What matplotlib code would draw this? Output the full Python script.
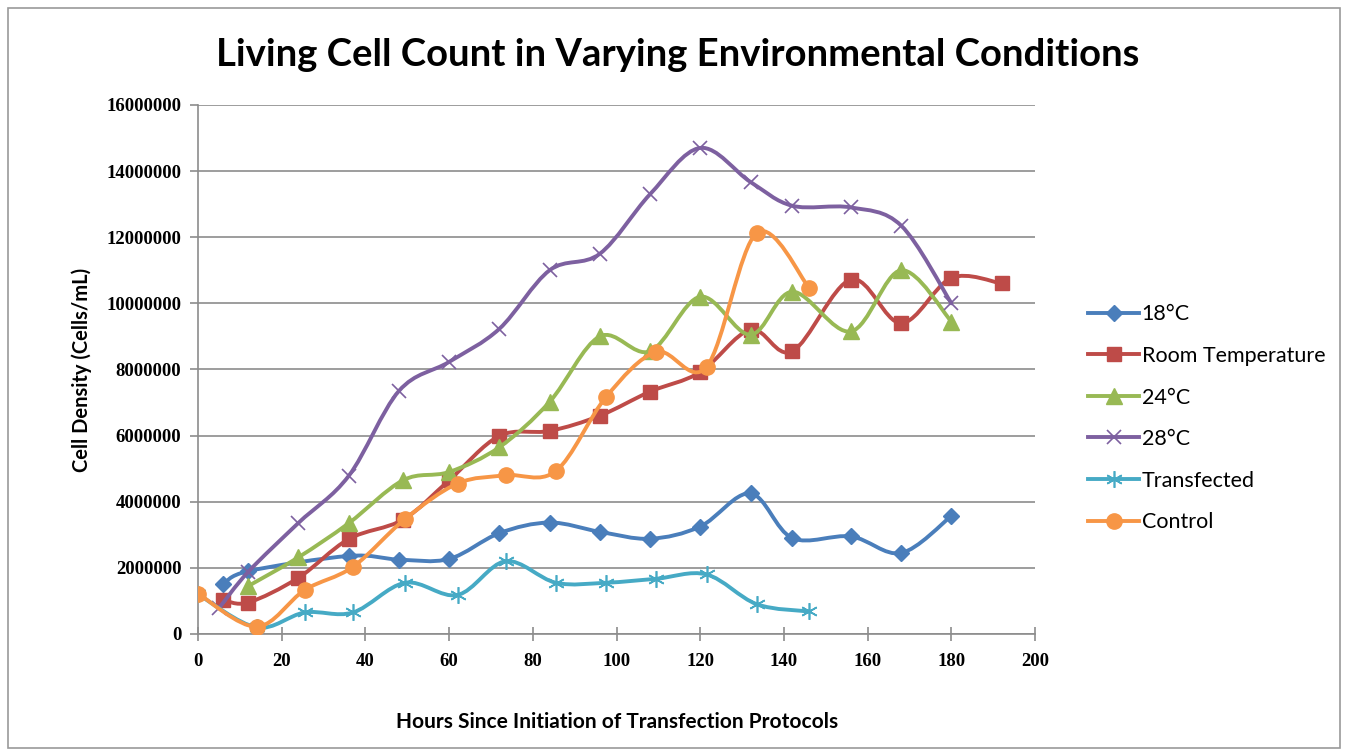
import numpy as np
import matplotlib
matplotlib.use("Agg")
import matplotlib.pyplot as plt
from matplotlib.path import Path
from matplotlib.patches import PathPatch, Rectangle
from matplotlib.lines import Line2D

# data (hours, cells/mL)
hours_18 = [6, 12, 36, 48, 60, 72, 84, 96, 108, 120, 132, 142, 156, 168, 180]
dens_18 = [1.50e6, 1.90e6, 2.36e6, 2.25e6, 2.27e6, 3.05e6, 3.37e6, 3.09e6, 2.88e6,
           3.25e6, 4.25e6, 2.90e6, 2.95e6, 2.45e6, 3.57e6]

hours_rt = [6, 12, 24, 36, 49, 60, 72, 84, 96, 108, 120, 132, 142, 156, 168, 180, 192]
dens_rt = [1.03e6, 0.95e6, 1.70e6, 2.87e6, 3.46e6, 4.65e6, 5.99e6, 6.14e6, 6.60e6,
           7.33e6, 7.92e6, 9.20e6, 8.55e6, 10.72e6, 9.40e6, 10.77e6, 10.60e6]

hours_24 = [12, 24, 36, 49, 60, 72, 84, 96, 108, 120, 132, 142, 156, 168, 180]
dens_24 = [1.45e6, 2.32e6, 3.35e6, 4.65e6, 4.90e6, 5.65e6, 7.02e6, 9.00e6, 8.55e6,
           10.20e6, 9.05e6, 10.35e6, 9.15e6, 11.00e6, 9.45e6]

hours_28 = [5, 12, 24, 36, 48, 60, 72, 84, 96, 108, 120, 132, 142, 156, 168, 180]
dens_28 = [0.78e6, 1.88e6, 3.36e6, 4.78e6, 7.35e6, 8.23e6, 9.23e6, 11.00e6, 11.50e6,
           13.30e6, 14.70e6, 13.67e6, 12.95e6, 12.90e6, 12.35e6, 10.00e6]

hours_tr = [0, 14, 25.5, 37, 49.5, 62, 73.5, 85.5, 97.5, 109.5, 121.5, 133.5, 146]
dens_tr = [1.20e6, 0.20e6, 0.65e6, 0.65e6, 1.55e6, 1.18e6, 2.20e6, 1.55e6, 1.55e6,
           1.67e6, 1.80e6, 0.90e6, 0.68e6]

hours_ct = [0, 14, 25.5, 37, 49.5, 62, 73.5, 85.5, 97.5, 109.5, 121.5, 133.5, 146]
dens_ct = [1.22e6, 0.22e6, 1.33e6, 2.03e6, 3.48e6, 4.55e6, 4.80e6, 4.93e6, 7.17e6,
           8.53e6, 8.08e6, 12.13e6, 10.47e6]

series = [
    ("18°C", hours_18, dens_18, "#4A7EBB", "D", 8),
    ("Room Temperature", hours_rt, dens_rt, "#BE4B48", "s", 10),
    ("24°C", hours_24, dens_24, "#98B954", "^", 11),
    ("28°C", hours_28, dens_28, "#7D60A0", "x", 10),
    ("Transfected", hours_tr, dens_tr, "#46AAC5", (6, 2, 0), 12),
    ("Control", hours_ct, dens_ct, "#F79646", "o", 11),
]


def smooth_path(xs, ys):
    # Excel-style smoothed line: cubic Bezier through the points
    p = np.column_stack([xs, ys]).astype(float)
    n = len(p)
    verts = [p[0]]
    codes = [Path.MOVETO]
    for i in range(n - 1):
        p0 = p[i - 1] if i > 0 else p[i]
        p1, p2 = p[i], p[i + 1]
        p3 = p[i + 2] if i + 2 < n else p[i + 1]
        c1 = p1 + (p2 - p0) / 6.0
        c2 = p2 - (p3 - p1) / 6.0
        verts += [c1, c2, p2]
        codes += [Path.CURVE4] * 3
    return Path(verts, codes)


fig = plt.figure(figsize=(13.48, 7.55), dpi=100)
fig.patches.append(Rectangle((0.006, 0.009), 0.988, 0.981, transform=fig.transFigure,
                             fill=False, edgecolor="#9a9a9a", linewidth=1.2))
ax = fig.add_axes([0.1469, 0.1603, 0.621, 0.7007])

handles = []
for i, (name, xs, ys, col, mk, ms) in enumerate(series):
    patch = PathPatch(smooth_path(xs, ys), facecolor="none", edgecolor=col,
                      linewidth=2.8, zorder=3 + i, capstyle="round", joinstyle="round")
    ax.add_patch(patch)
    if mk in ("x",) or isinstance(mk, tuple):
        ax.plot(xs, ys, linestyle="none", marker=mk, markersize=ms, color=col,
                markeredgewidth=1.2, zorder=3 + i)
        h = Line2D([], [], color=col, linewidth=2.8, marker=mk, markersize=ms,
                   markeredgewidth=1.2)
    else:
        ax.plot(xs, ys, linestyle="none", marker=mk, markersize=ms, color=col,
                markeredgecolor=col, zorder=3 + i)
        h = Line2D([], [], color=col, linewidth=2.8, marker=mk, markersize=ms)
    handles.append(h)

ax.set_xlim(0, 200)
ax.set_ylim(0, 16000000)
ax.set_xticks(np.arange(0, 201, 20))
ax.set_yticks(np.arange(0, 16000001, 2000000))
ax.set_yticklabels([str(int(v)) for v in np.arange(0, 16000001, 2000000)])
ax.yaxis.grid(True, color="#8c8c8c", linewidth=1.2)
ax.set_axisbelow(True)
for s in ("top", "right"):
    ax.spines[s].set_visible(False)
for s in ("left", "bottom"):
    ax.spines[s].set_color("#8c8c8c")
    ax.spines[s].set_linewidth(1.2)
ax.tick_params(axis="x", direction="inout", length=10, color="#8c8c8c", width=1.2, pad=9)
ax.tick_params(axis="y", direction="out", length=6, color="#8c8c8c", width=1.2, pad=6)
for lab in ax.get_xticklabels() + ax.get_yticklabels():
    lab.set_fontfamily("Liberation Serif")
    lab.set_fontweight("bold")
    lab.set_fontsize(13.5)

fig.text(0.503, 0.927, "Living Cell Count in Varying Environmental Conditions",
         ha="center", va="center", fontsize=27.5, fontweight="bold", family="Lato")
ax.set_xlabel("Hours Since Initiation of Transfection Protocols", fontsize=15,
              fontweight="bold", family="Lato", labelpad=30)
ax.set_ylabel("Cell Density (Cells/mL)", fontsize=14.5, fontweight="bold",
              family="Lato", labelpad=10)

fig.legend(handles, [s[0] for s in series], loc="center left",
           bbox_to_anchor=(0.799, 0.446), frameon=False,
           prop={"family": "Lato", "size": 15.5}, handlelength=2.4,
           handletextpad=0.1, labelspacing=1.0, borderpad=0)

fig.savefig("out.png", dpi=100)
